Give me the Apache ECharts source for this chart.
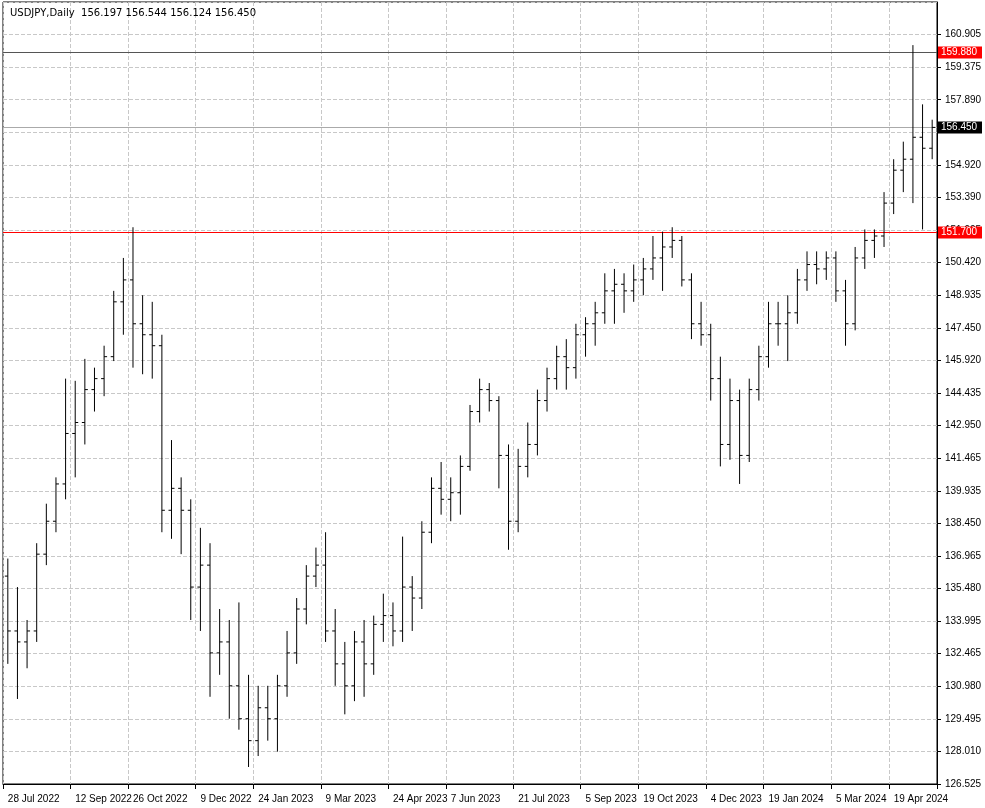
<!DOCTYPE html><html><head><meta charset="utf-8">
<script src="https://cdn.jsdelivr.net/npm/echarts@6/dist/echarts.min.js"></script>
<style>html,body{margin:0;background:#fff}#c{width:985px;height:808px}</style></head><body><div id="c"></div>
<script>
const ohlc = [
[136.0,136.8,132.0,133.5],[133.5,135.5,130.4,133.0],[133.0,134.0,131.8,133.5],[133.5,137.5,133.0,137.0],
[137.0,139.3,136.5,138.5],[138.5,140.5,138.0,140.2],[140.2,145.0,139.5,142.5],[142.5,144.9,140.5,143.0],
[143.0,145.9,142.0,144.5],[144.5,145.5,143.5,145.0],[145.0,146.5,144.2,146.0],[146.0,149.0,145.8,148.5],
[148.5,150.5,147.0,149.5],[149.5,151.9,145.5,147.5],[147.5,148.8,145.2,147.0],[147.0,148.5,145.0,146.5],
[146.5,147.0,138.0,139.0],[139.0,142.2,137.7,140.0],[140.0,140.5,137.0,139.0],[139.0,139.5,134.0,135.5],
[135.5,138.2,133.5,136.5],[136.5,137.5,130.5,132.5],[132.5,134.5,131.5,133.0],[133.0,134.0,129.5,131.0],
[131.0,134.8,129.0,129.5],[129.5,131.5,127.3,128.5],[128.5,131.0,127.8,130.0],[130.0,131.0,128.5,129.5],
[129.5,131.5,128.0,131.0],[131.0,133.5,130.5,132.5],[132.5,135.0,132.0,134.5],[134.5,136.5,133.8,136.0],
[136.0,137.3,135.5,136.5],[136.5,138.0,133.0,133.5],[133.5,134.5,131.0,132.0],[132.0,133.0,129.7,131.0],
[131.0,133.5,130.3,133.0],[133.0,134.0,130.5,132.0],[132.0,134.2,131.5,133.8],[133.8,135.2,133.0,134.2],
[134.2,134.8,132.8,133.5],[133.5,137.8,133.0,135.5],[135.5,136.0,133.5,135.0],[135.0,138.5,134.5,138.0],
[138.0,140.5,137.5,140.0],[140.0,141.2,138.8,139.5],[139.5,140.5,138.5,139.8],[139.8,141.5,138.8,141.0],
[141.0,143.8,140.8,143.5],[143.5,145.0,143.0,144.5],[144.5,144.8,143.5,144.0],[144.0,144.2,140.0,141.5],
[141.5,142.0,137.2,138.5],[138.5,141.8,138.0,141.0],[141.0,143.0,140.5,142.0],[142.0,144.5,141.5,144.0],
[144.0,145.5,143.5,145.0],[145.0,146.5,144.5,146.0],[146.0,146.8,144.5,145.5],[145.5,147.5,145.0,147.0],
[147.0,147.8,146.0,147.5],[147.5,148.5,146.5,148.0],[148.0,149.8,147.5,149.0],[149.0,150.0,147.5,149.3],
[149.3,149.8,148.0,149.0],[149.0,150.2,148.5,149.5],[149.5,150.5,148.8,150.0],[150.0,151.5,149.5,150.5],
[150.5,151.7,149.0,151.0],[151.0,151.9,150.5,151.3],[151.3,151.5,149.2,149.5],[149.5,149.8,146.8,147.5],
[147.5,148.5,146.5,147.0],[147.0,147.5,144.0,145.0],[145.0,146.0,141.0,142.0],[142.0,145.0,141.3,144.0],
[144.0,144.5,140.2,141.5],[141.5,145.0,141.2,144.5],[144.5,146.5,144.0,146.0],[146.0,148.5,145.5,147.5],
[147.5,148.5,146.5,147.5],[147.5,148.8,145.8,148.0],[148.0,150.0,147.5,149.5],[149.5,150.8,149.0,150.2],
[150.2,150.8,149.3,150.0],[150.0,150.8,149.5,150.5],[150.5,150.8,148.5,149.0],[149.0,149.5,146.5,147.5],
[147.5,151.0,147.2,150.5],[150.5,151.8,150.0,151.3],[151.3,151.8,150.5,151.5],[151.5,153.5,151.0,153.0],
[153.0,155.0,152.5,154.5],[154.5,155.8,153.5,155.0],[155.0,160.2,153.0,156.0],[156.0,157.5,151.8,155.5],
[155.5,156.8,155.0,156.45]
];
const tickLabels = {0:'28 Jul 2022',7:'12 Sep 2022',13:'26 Oct 2022',20:'9 Dec 2022',26:'24 Jan 2023',33:'9 Mar 2023',40:'24 Apr 2023',46:'7 Jun 2023',53:'21 Jul 2023',60:'5 Sep 2023',66:'19 Oct 2023',73:'4 Dec 2023',79:'19 Jan 2024',86:'5 Mar 2024',92:'19 Apr 2024'};
const yTickLabels = ['126.525','128.010','129.495','130.980','132.465','133.995','135.480','136.965','138.450','139.935','141.465','142.950','144.435','145.920','147.450','148.935','150.420','151.905','153.390','154.920','','157.890','159.375','160.905'];
const levelValues = [159.880, 156.450, 151.700];
const levelLineColors = ['#555555', '#aaaaaa', '#ff0000'];
const levelBoxColors = ['#ff0000', '#000000', '#ff0000'];
const cats = ohlc.map((d,i)=>'w'+i);
const data = ohlc.map((d,i)=>[i,d[0],d[1],d[2],d[3]]);
const chart = echarts.init(document.getElementById('c'));
const show = (i)=> tickLabels[i]!==undefined;
chart.setOption({
  animation:false,
  title:{text:'USDJPY,Daily  156.197 156.544 156.124 156.450',left:5,top:3,textStyle:{fontSize:10,fontWeight:'normal',color:'#000',fontFamily:'Tahoma, DejaVu Sans, sans-serif'}},
  grid:{left:3,right:48,top:2,bottom:24,show:true,borderColor:'#000',borderWidth:1},
  xAxis:{type:'category',data:cats,boundaryGap:true,
    axisLine:{lineStyle:{color:'#000'}},axisTick:{show:true,interval:(i)=>show(i),lineStyle:{color:'#000'}},
    axisLabel:{interval:(i)=>show(i),formatter:(v,i)=>tickLabels[i]||'',color:'#000',fontSize:10,align:'left',margin:10},
    splitLine:{show:true,interval:(i)=>show(i),lineStyle:{color:'#c8c8c8',type:'dashed'}}},
  yAxis:{type:'value',position:'right',min:126.525,max:162.165,interval:1.485,
    axisLine:{show:true,lineStyle:{color:'#000'}},axisTick:{show:true,length:4,lineStyle:{color:'#000'}},
    axisLabel:{color:'#000',fontSize:10,showMaxLabel:false,formatter:v=>yTickLabels[Math.round((v-126.525)/1.485)]||''},
    splitLine:{show:true,lineStyle:{color:'#c8c8c8',type:'dashed'}}},
  series:[
   {type:'custom',data:levelValues.map((v,i)=>[0,v,i]),encode:{y:1},clip:false,z:3,
    renderItem:function(params,api){
      const cs=params.coordSys; const y=Math.round(api.coord([0,api.value(1)])[1])+0.5; const k=api.value(2);
      return {type:'group',children:[
        {type:'line',shape:{x1:cs.x,y1:y,x2:cs.x+cs.width,y2:y},style:{stroke:levelLineColors[k],lineWidth:1}},
        {type:'rect',shape:{x:cs.x+cs.width+1,y:y-6,width:44,height:12},style:{fill:levelBoxColors[k]}},
        {type:'text',style:{x:cs.x+cs.width+4,y:y,text:api.value(1).toFixed(3),fill:'#fff',font:'10px sans-serif',verticalAlign:'middle'}}]};
    }},
   {type:'custom',data:data,encode:{x:0,y:[1,2,3,4]},clip:true,z:5,
    renderItem:function(params,api){
      const x=api.value(0);
      const o=api.coord([x,api.value(1)]),h=api.coord([x,api.value(2)]),l=api.coord([x,api.value(3)]),c=api.coord([x,api.value(4)]);
      const w=3;const st={stroke:'#000',lineWidth:1};
      return {type:'group',children:[
        {type:'line',shape:{x1:h[0],y1:h[1],x2:l[0],y2:l[1]},style:st},
        {type:'line',shape:{x1:o[0]-w,y1:o[1],x2:o[0],y2:o[1]},style:st},
        {type:'line',shape:{x1:c[0],y1:c[1],x2:c[0]+w,y2:c[1]},style:st}]};
    }}]
});
</script></body></html>
